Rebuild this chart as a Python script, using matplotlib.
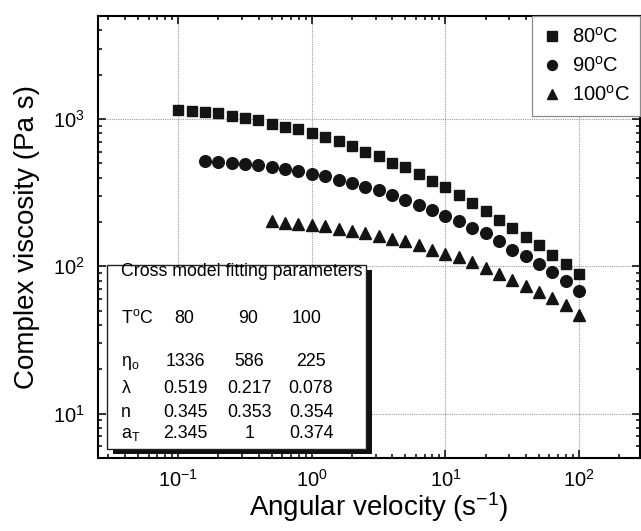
import numpy as np
import matplotlib
matplotlib.use('Agg')
import matplotlib.pyplot as plt
from matplotlib.patches import Rectangle

plt.rcParams['font.family'] = ['Liberation Sans', 'DejaVu Sans']
plt.rcParams['mathtext.fontset'] = 'custom'
plt.rcParams['mathtext.rm'] = 'Liberation Sans'
plt.rcParams['mathtext.it'] = 'Liberation Sans:italic'
plt.rcParams['mathtext.default'] = 'regular'
plt.rcParams['axes.unicode_minus'] = False

# angular velocity (1/s), 10 points per decade
w_80 = 10 ** np.arange(-1.0, 2.01, 0.1)
w_90 = 10 ** np.arange(-0.8, 2.01, 0.1)
w_100 = 10 ** np.arange(-0.3, 2.01, 0.1)

# complex viscosity (Pa s)
eta_80 = [1153, 1141, 1123, 1094, 1054, 1016, 990, 924, 885, 849, 800,
          759, 713, 655, 595, 558, 503, 471, 422, 379, 344,
          304, 269, 237, 207, 181, 159, 139, 120, 104, 89]
eta_90 = [517, 508, 503, 495, 484, 471, 459, 440, 422, 407, 386,
          366, 347, 329, 304, 281, 259, 240, 219, 202, 182,
          167, 149, 130, 117, 104, 91, 80, 68]
eta_100 = [204, 196, 194, 192, 189, 179, 174, 167, 161, 153, 149,
           140, 130, 122, 115, 107, 97, 88, 81, 73, 67, 60.5, 54.5, 47]

# cross model table
temps = ['80', '90', '100']
eta0 = ['1336', '586', '225']
lam = ['0.519', '0.217', '0.078']
n_exp = ['0.345', '0.353', '0.354']
a_T = ['2.345', '1', '0.374']

fig = plt.figure(figsize=(6.41, 5.31), dpi=100)
ax = fig.add_axes([0.1524, 0.1375, 0.8468, 0.8324])

mk = '#141414'
ax.plot(w_80, eta_80, 's', color=mk, ms=7.7, mec=mk, label='80$^{o}$C')
ax.plot(w_90, eta_90, 'o', color=mk, ms=8.4, mec=mk, label='90$^{o}$C')
ax.plot(w_100, eta_100, '^', color=mk, ms=9, mec=mk, label='100$^{o}$C')

ax.set_xscale('log')
ax.set_yscale('log')
ax.set_xlim(0.025, 288)
ax.set_ylim(5, 5000)

ax.grid(True, which='major', color='#9a9a9a', linestyle=(0, (1, 1)), linewidth=0.8)
ax.tick_params(which='both', direction='in', top=True, right=True, width=1.1)
ax.tick_params(which='major', length=6, labelsize=14.5)
ax.tick_params(axis='x', which='major', pad=8)
ax.tick_params(axis='y', which='major', pad=9)
ax.tick_params(which='minor', length=3)
for s in ax.spines.values():
    s.set_linewidth(1.5)

ax.set_xlabel('Angular velocity (s$^{-1}$)', fontsize=20)
ax.set_ylabel('Complex viscosity (Pa s)', fontsize=20)
ax.xaxis.set_label_coords(0.517, -0.073)
ax.yaxis.set_label_coords(-0.106, 0.5)

leg = ax.legend(loc='upper right', borderaxespad=0, fancybox=False,
                edgecolor='#8c8c8c', framealpha=1, fontsize=14.5,
                handlelength=0.9, handletextpad=0.5, labelspacing=0.45,
                borderpad=0.55, markerscale=0.85)
leg.get_frame().set_linewidth(0.9)

# inset box with the fitting parameters
bx, by, bw, bh = 0.017, 0.020, 0.477, 0.416
ax.add_patch(Rectangle((bx + 0.011, by - 0.011), bw, bh, transform=ax.transAxes,
                       facecolor='#111111', edgecolor='none', zorder=4, clip_on=False))
ax.add_patch(Rectangle((bx, by), bw, bh, transform=ax.transAxes,
                       facecolor='white', edgecolor='#222222', lw=1.0, zorder=5))

tk = dict(transform=ax.transAxes, fontsize=12.8, va='baseline', zorder=6)
ax.text(0.043, 0.412, 'Cross model fitting parameters', ha='left', **tk)
rows = [('T$^{o}$C', temps, 0.305),
        ('$\\eta_{o}$', eta0, 0.208),
        ('$\\lambda$', lam, 0.147),
        ('n', n_exp, 0.093),
        ('a$_{T}$', a_T, 0.045)]
for label, vals, yy in rows:
    ax.text(0.043, yy, label, ha='left', **tk)
    cols = [0.159, 0.277, 0.385] if label.startswith('T') else [0.161, 0.279, 0.393]
    for xx, v in zip(cols, vals):
        ax.text(xx, yy, v, ha='center', **tk)

fig.savefig('out.png', dpi=100)
